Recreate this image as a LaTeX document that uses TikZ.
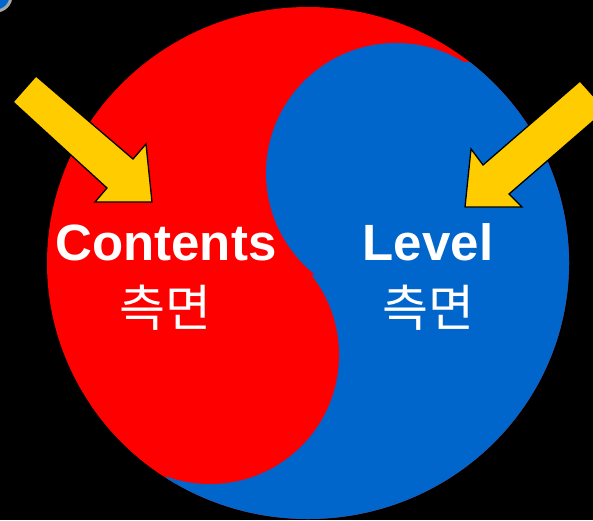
\documentclass[tikz,border=0pt]{standalone}
\usepackage{fontspec}
\setmainfont{Liberation Sans}
\newfontfamily\kofont{Noto Sans CJK KR}
\usepackage{tikz}

\definecolor{yinred}{HTML}{FF0000}
\definecolor{yangblue}{HTML}{0066CC}
\definecolor{arrowgold}{HTML}{FFCC00}

\begin{document}
\begin{tikzpicture}[x=1pt,y=-1pt,
	blockarrow/.style={fill=arrowgold,draw=black,line width=1.3pt},
	title/.style={text=white,font=\fontsize{51}{55}\selectfont\bfseries,inner sep=0pt,anchor=base},
	aspect/.style={text=white,font=\kofont\fontsize{50}{55}\selectfont,inner sep=0pt,anchor=base}]
		\fill[black] (0,0) rectangle (593,520);
		\useasboundingbox (0,0) rectangle (593,520);
		% rim of an icon in the corner
		\filldraw[fill=yangblue,draw=gray!70,line width=3pt] (-4,-4) circle (15);
		% the two halves
		\begin{scope}
			\clip (308,263) ellipse (261 and 256);
			\fill[yinred] (0,0) rectangle (593,520);
			\fill[yangblue] (463,62) -- (700,62) -- (700,600) -- (100,600) -- (170,470) -- (313,275) -- (396,173) -- cycle;
			\fill[yangblue] (396,173) circle (130);
			\fill[yinred] (210,355) circle (129);
		\end{scope}
		% arrows
		\draw[blockarrow] (13,102) -- (36,76) -- (133,159) -- (146,144) -- (152,202) -- (95,202) -- (107,188) -- cycle;
		\draw[blockarrow] (606,110) -- (580,81) -- (483,165) -- (471,149) -- (465,207) -- (522,207) -- (509,194) -- cycle;
		% labels
		\node[title] (contents) at (166,260) {Contents};
		\node[aspect] (contentsko) at (165,326) {측면};
		\node[title] (level) at (428,260) {Level};
		\node[aspect] (levelko) at (428,326) {측면};
	\end{tikzpicture}
\end{document}
